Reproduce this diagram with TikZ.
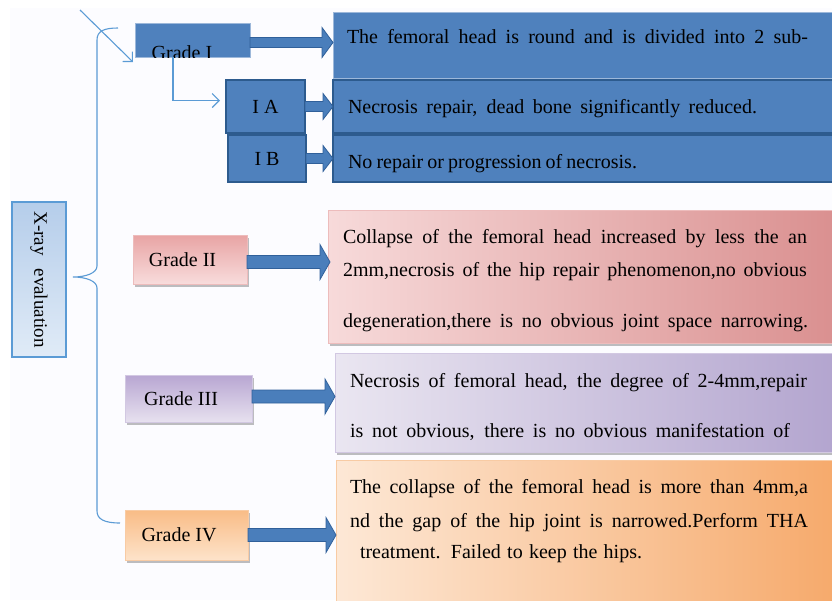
\documentclass[tikz,border=0pt]{standalone}
\usepackage{fontspec}
\setmainfont{Liberation Serif}
\usetikzlibrary{calc,shadows,arrows.meta}
\definecolor{bluefill}{HTML}{4F81BD}
\definecolor{bluedark}{HTML}{2D5B8E}
\definecolor{bluelight}{HTML}{9DB8DA}
\definecolor{linkblue}{HTML}{5B9BD5}
\definecolor{arrowfill}{HTML}{4A7EBB}
\definecolor{arrowdark}{HTML}{30609A}
\definecolor{pinkA}{HTML}{E8A4A4}
\definecolor{pinkB}{HTML}{F8DCDC}
\definecolor{pinkC}{HTML}{F7DADA}
\definecolor{pinkD}{HTML}{DA9090}
\definecolor{pinkE}{HTML}{EDBCBC}
\definecolor{purA}{HTML}{B8A6D2}
\definecolor{purB}{HTML}{E7E1EF}
\definecolor{purC}{HTML}{EAE6F1}
\definecolor{purD}{HTML}{B3A5CF}
\definecolor{purE}{HTML}{D2C8E2}
\definecolor{orA}{HTML}{F9BC86}
\definecolor{orB}{HTML}{FDE3CA}
\definecolor{orC}{HTML}{FDE8D6}
\definecolor{orD}{HTML}{F6AA6C}
\definecolor{orE}{HTML}{F8CBA4}
\definecolor{xrA}{HTML}{E0EBF7}
\definecolor{xrB}{HTML}{B5CDEA}
\newcommand{\fatarr}[5]{%
  \draw[fatarrow] ($(#1)+(0,#3)$) -- ($(#2)+(-#5,#3)$) -- ($(#2)+(-#5,#4)$) -- (#2)
    -- ($(#2)+(-#5,-#4)$) -- ($(#2)+(-#5,-#3)$) -- ($(#1)+(0,-#3)$) -- cycle;}
\begin{document}
\begin{tikzpicture}[x=1pt,y=-1pt,
  every node/.style={inner sep=0pt, outer sep=0pt},
  bigfont/.style={font=\fontsize{20}{24}\selectfont},
  txt/.style={bigfont, anchor=base west},
  boxbase/.style={anchor=north west},
  bluebox/.style={boxbase, draw=bluedark, line width=1.3pt, fill=bluefill},
  softblue/.style={boxbase, draw=bluelight, line width=1pt, fill=bluefill},
  shadowed/.style={drop shadow={shadow xshift=1.5pt, shadow yshift=-2.5pt, fill=black, opacity=0.25}},
  pinkbox/.style={boxbase, draw=pinkE, line width=0.8pt, top color=pinkA, bottom color=pinkB, shadowed},
  pinktext/.style={boxbase, draw=pinkE, line width=0.8pt, left color=pinkC, right color=pinkD, shadowed},
  purbox/.style={boxbase, draw=purE, line width=0.8pt, top color=purA, bottom color=purB, shadowed},
  purtext/.style={boxbase, draw=purE, line width=0.8pt, left color=purC, right color=purD, shadowed},
  orbox/.style={boxbase, draw=orE, line width=0.8pt, top color=orA, bottom color=orB, shadowed},
  ortext/.style={boxbase, draw=orE, line width=0.8pt, left color=orC, right color=orD},
  glabel/.style={bigfont, execute at end node={\hspace*{15pt}}},
  fatarrow/.style={fill=arrowfill, draw=arrowdark, line width=0.8pt, line join=miter},
  thinlink/.style={draw=linkblue, line width=1.1pt},
  thinarrow/.style={thinlink, -{Straight Barb[length=7pt,width=14pt]}}
]
\useasboundingbox (0,0) rectangle (832,600);
\fill[white] (0,0) rectangle (832,600);
\fill[white!97!blue!40] (10,8) rectangle (832,600);

% X-ray evaluation
\node[draw=linkblue, line width=1.2pt, top color=xrB, bottom color=xrA, rotate=-90,
      minimum width=155pt, minimum height=54pt, font=\fontsize{19}{22}\selectfont]
      (xray) at (39,279.5) {X-ray\hspace{13pt}evaluation};

% right-hand boxes
\node[softblue, minimum width=501pt, minimum height=66pt] (t1) at (333,12) {};
\node[bluebox, minimum width=501pt, minimum height=53pt] (ta) at (333,80) {};
\node[bluebox, minimum width=501pt, minimum height=47pt] (tb) at (333,135) {};
\node[pinktext, minimum width=506pt, minimum height=133pt] (t2) at (328,210) {};
\node[purtext, minimum width=499pt, minimum height=99pt] (t3) at (335,353) {};
\node[ortext, minimum width=498pt, minimum height=142pt] (t4) at (336,460) {};

% left-hand grade boxes
\node[softblue, minimum width=115pt, minimum height=34pt] (g1) at (135,23) {};
\begin{scope}
  \clip (g1.south west) rectangle (g1.north east);
  \node[bigfont, anchor=base] (g1t) at (182,59) {Grade I};
\end{scope}
\node[bluebox, minimum width=79pt, minimum height=53pt, bigfont] (ia) at (226,80) {I A};
\node[bluebox, minimum width=78pt, minimum height=47pt, bigfont] (ib) at (228,135) {I B};
\node[pinkbox, minimum width=114pt, minimum height=49pt, glabel] (g2) at (133,235) {Grade II};
\node[purbox, minimum width=127pt, minimum height=47pt, glabel] (g3) at (125,375) {Grade III};
\node[orbox, minimum width=123pt, minimum height=50pt, glabel] (g4) at (125,510) {Grade IV};

% texts
\node[txt] (t1a) at (347,43) {\makebox[461pt][s]{The femoral head is round and is divided into 2 sub-}};
\node[txt] (taa) at (348,113) {\makebox[409pt][s]{Necrosis repair, dead bone significantly reduced.}};
\node[txt] (tba) at (348,168) {\makebox[289pt][s]{No repair or progression of necrosis.}};
\node[txt] (t2a) at (343,243) {\makebox[464pt][s]{Collapse of the femoral head increased by less the an}};
\node[txt] (t2b) at (343,276) {\makebox[464pt][s]{2mm,necrosis of the hip repair phenomenon,no obvious}};
\node[txt] (t2c) at (343,327) {\makebox[465pt][s]{degeneration,there is no obvious joint space narrowing.}};
\node[txt] (t3a) at (350,387) {\makebox[457pt][s]{Necrosis of femoral head, the degree of 2-4mm,repair}};
\node[txt] (t3b) at (350,437) {\makebox[440pt][s]{is not obvious, there is no obvious manifestation of}};
\node[txt] (t4a) at (350,493) {\makebox[458pt][s]{The collapse of the femoral head is more than 4mm,a}};
\node[txt] (t4b) at (350,527) {\makebox[458pt][s]{nd the gap of the hip joint is narrowed.Perform THA}};
\node[txt] (t4c) at (360,558) {\makebox[282pt][s]{treatment. Failed to keep the hips.}};

% fat arrows
\coordinate (a1s) at ($(g1.east)+(0,2.5)$); \coordinate (a1e) at (a1s -| t1.west);
\coordinate (aas) at (ia.east); \coordinate (aae) at (ia.east -| ta.west);
\coordinate (abs) at (ib.east); \coordinate (abe) at (ib.east -| tb.west);
\coordinate (a2s) at ($(g2.east)+(0,2.5)$); \coordinate (a2e) at ($(a2s -| t2.west)+(2,0)$);
\coordinate (a3s) at ($(g3.east)+(0,-2)$); \coordinate (a3e) at (a3s -| t3.west);
\coordinate (a4s) at (g4.east); \coordinate (a4e) at (g4.east -| t4.west);
\fatarr{a1s}{a1e}{5}{15}{11}
\fatarr{aas}{aae}{5}{13}{10}
\fatarr{abs}{abe}{5}{13}{10}
\fatarr{a2s}{a2e}{6.5}{17.5}{10}
\fatarr{a3s}{a3e}{6.5}{17.5}{10}
\fatarr{a4s}{a4e}{6.5}{17.5}{10}

% thin connectors
\coordinate (dstart) at (80,10);
\draw[thinarrow] (dstart) -- ($(g1.south west)+(-2,5)$);
\coordinate (elb) at (173,57);
\draw[thinarrow] (elb) |- ($(ia.west)+(-6,-6)$);

% brace
\coordinate (btop) at (118,28);
\coordinate (btip) at (73,277);
\coordinate (bbot) at (120,523);
\draw[thinlink] (btop) .. controls (104,28) and (97,31) .. (97,40) -- (97,266)
  .. controls (97,273) and (86,277) .. (btip)
  .. controls (86,277) and (97,281) .. (97,288) -- (97,511)
  .. controls (97,519) and (104,523) .. (bbot);
\end{tikzpicture}
\end{document}
